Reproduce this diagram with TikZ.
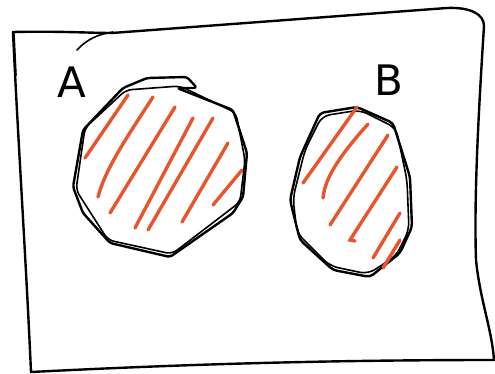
\documentclass[tikz,border=0pt]{standalone}
\usepackage{fontspec}
\setsansfont{DejaVu Sans}
\definecolor{hatch}{RGB}{232,84,44}
\begin{document}
\begin{tikzpicture}[x=1pt,y=-1pt,
  ink/.style={line width=2.4pt,line cap=round,line join=round,black},
  thinink/.style={line width=1.6pt,line cap=round,line join=round,black},
  hatchline/.style={line width=3.4pt,line cap=round,hatch},
  letter/.style={font=\fontsize{42}{42}\sffamily,inner sep=0pt}]
\useasboundingbox (0,0) rectangle (495,374);
% universe rectangle
\draw[ink] (13,32) .. controls (60,31) and (90,33) .. (112,33)
  -- (447,8) .. controls (470,7) and (484,14) .. (484,26)
  .. controls (478,120) and (474,200) .. (476,260)
  .. controls (480,300) and (492,330) .. (494,360)
  .. controls (300,360) and (150,366) .. (31,372)
  .. controls (26,260) and (18,140) .. (13,32) -- cycle;
\draw[thinink] (14,34) -- (16,75);
\draw[thinink] (77,50) .. controls (86,40) and (98,34) .. (113,32);
% set A
\draw[ink,rounded corners=3pt] (123,88) -- (147,78) -- (187,77) -- (197,88) -- (177,88)
  -- (233,110) -- (247,153) -- (243,197) -- (233,213) -- (170,257) -- (110,243)
  -- (83,213) -- (73,187) -- (83,130) -- cycle;
\draw[thinink,rounded corners=6pt] (126,90) -- (180,86) -- (236,113) -- (245,160)
  -- (240,202) -- (172,254) -- (108,240) -- (76,190) -- (85,128) -- cycle;
% set B
\draw[ink,rounded corners=4pt] (320,113) -- (357,107) -- (393,123) -- (410,177) -- (412,227)
  -- (400,253) -- (370,277) -- (333,270) -- (300,240) -- (290,200) -- (300,157) -- cycle;
\draw[thinink,rounded corners=8pt] (322,116) -- (360,110) -- (396,128) -- (407,180)
  -- (409,230) -- (396,256) -- (368,274) -- (330,266) -- (297,233) -- (293,198)
  -- (305,150) -- cycle;
% labels
\node[letter] (labA) at (72,82) {A};
\node[letter] (labB) at (389,80) {B};
% hatching A
\draw[hatchline] (128,95) -- (85,158);
\draw[hatchline] (153,97) .. controls (125,140) and (105,170) .. (98,197);
\draw[hatchline] (175,107) -- (110,213);
\draw[hatchline] (193,118) -- (135,228);
\draw[hatchline] (213,118) -- (148,230);
\draw[hatchline] (228,143) -- (182,222);
\draw[hatchline] (242,170) -- (213,205);
% hatching B
\draw[hatchline] (357,107) -- (303,183);
\draw[hatchline] (368,124) .. controls (345,150) and (325,175) .. (323,198);
\draw[hatchline] (388,135) -- (330,225);
\draw[hatchline] (397,167) -- (350,240) -- (355,241);
\draw[hatchline] (400,213) -- (373,258);
\draw[hatchline] (400,240) -- (383,268);
\end{tikzpicture}
\end{document}
